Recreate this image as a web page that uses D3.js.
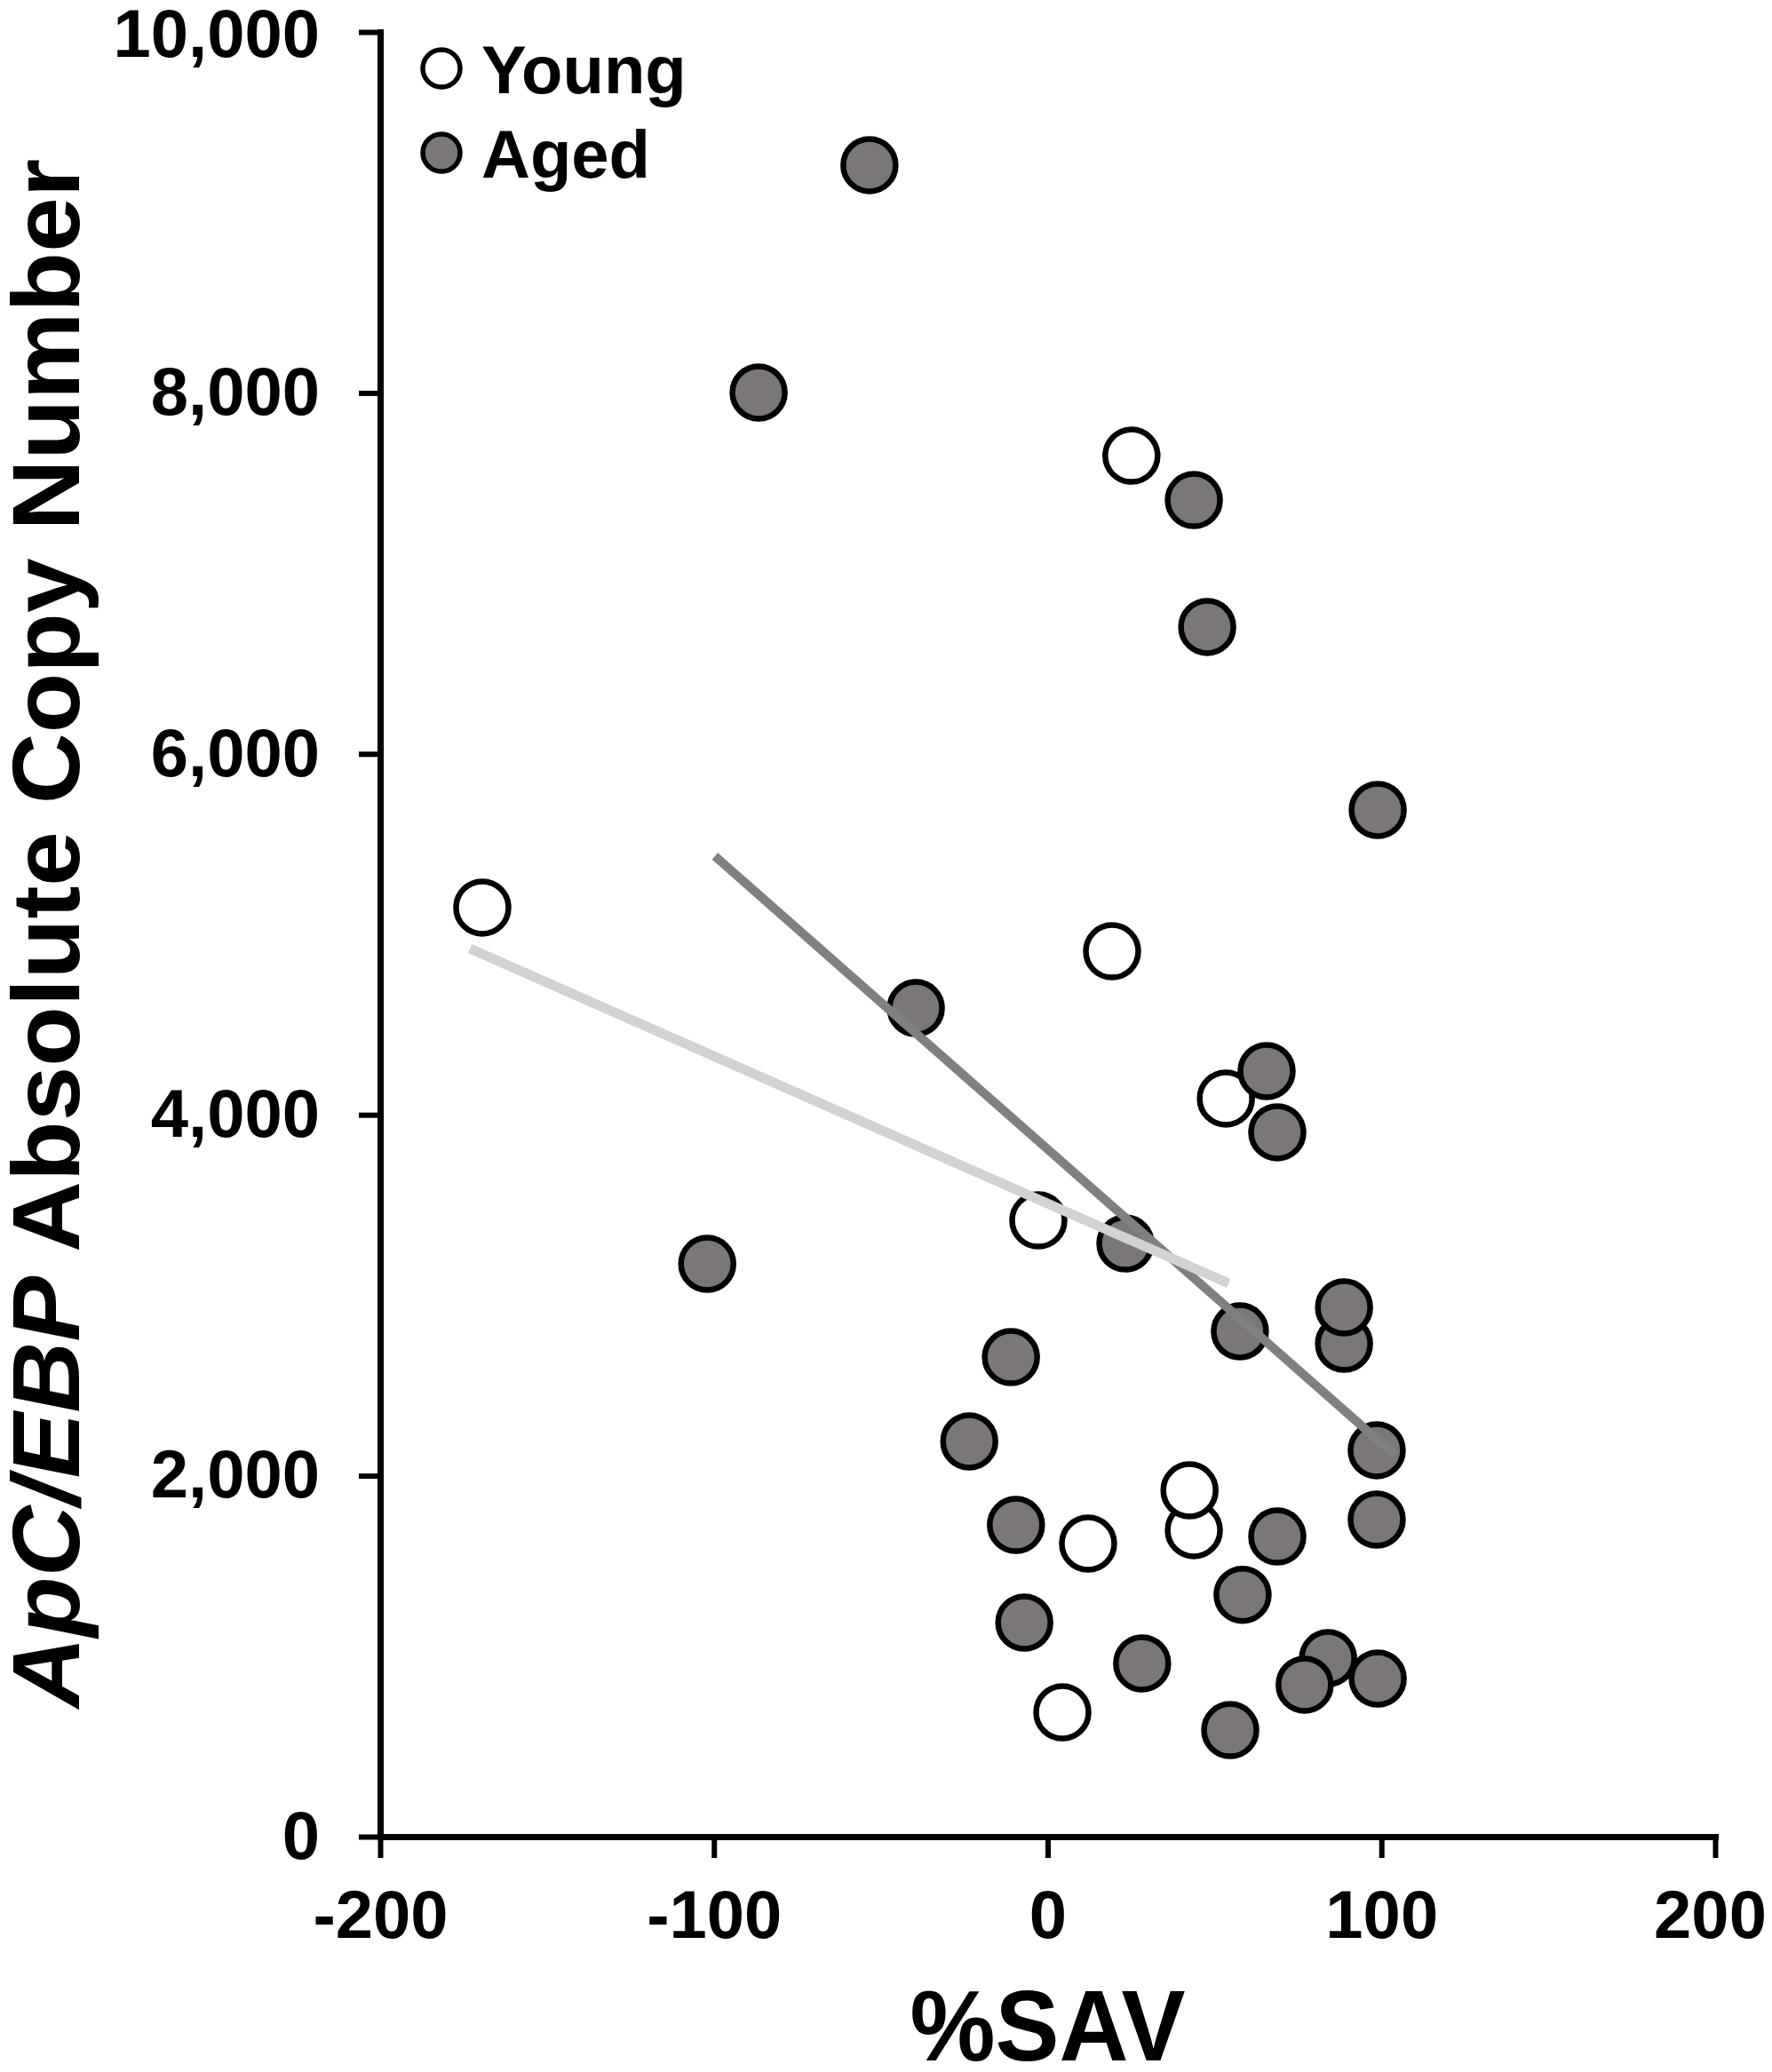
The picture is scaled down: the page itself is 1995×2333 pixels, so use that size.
<!DOCTYPE html>
<html>
<head>
<meta charset="utf-8">
<script src="https://cdn.jsdelivr.net/npm/d3@7/dist/d3.min.js"></script>
<style>
  html, body { margin: 0; padding: 0; background: #fff; }
  svg { display: block; }
  text { font-family: "Liberation Sans", Arial, Helvetica, sans-serif; font-weight: bold; fill: #000; }
</style>
</head>
<body>
<svg id="chart" width="1995" height="2333"></svg>
<script>
// ---- data ----
const xTicks = [-200, -100, 0, 100, 200];
const yTicks = [0, 2000, 4000, 6000, 8000, 10000];

const youngSAV  = [-169.4, 25.1, 19.3, 53.4, -2.8, 43.8, 42.5, 12.1, 4.4];
const youngCopy = [5148, 7652, 4906, 4090, 3415, 1698, 1919, 1624, 689];

const agedSAV  = [-53.4, -86.6, 43.8, 47.8, 98.9, -39.5, 65.6, 68.8, -102, 23.3,
                  88.8, 88.8, 57.6, -11, -23.5, 98.6, -9.5, 98.6, 68.8, 58.4,
                  -7, 28.3, 84, 77, 98.9, 54.7];
const agedCopy = [9262, 8002, 7406, 6703, 5689, 4591, 4242, 3903, 3174, 3287,
                  2731, 2933, 2800, 2657, 2190, 2141, 1727, 1757, 1663, 1340,
                  1186, 960, 989, 842, 876, 590];

const youngFitX = [-173.1, 54.2];
const youngFitY = [4921, 3066];
const agedFitX  = [-99.7, 104];
const agedFitY  = [5433, 2115];

const legendLabels = ["Young", "Aged"];
const xTitle = "%SAV";

// ---- styles ----
const agedFill = "#7b7778";
const agedLine = "#808080";
const youngLine = "#d2d2d2";

const svg = d3.select("#chart");

const x = d3.scaleLinear().domain([-200, 200]).range([428, 1931]);
const y = d3.scaleLinear().domain([0, 10000]).range([2068, 36]);

// axes
const xAxis = d3.axisBottom(x).tickValues(xTicks).tickFormat(d => String(d))
  .tickSizeInner(24).tickSizeOuter(0).tickPadding(36);
const yAxis = d3.axisLeft(y).tickValues(yTicks).tickFormat(d3.format(","))
  .tickSizeInner(24).tickSizeOuter(0).tickPadding(44);

const gx = svg.append("g").attr("transform", `translate(0,${y(0)})`).call(xAxis);
const gy = svg.append("g").attr("transform", `translate(${x(-200)},0)`).call(yAxis);

[gx, gy].forEach(g => {
  g.select(".domain").attr("stroke", "#000").attr("stroke-width", 7).attr("stroke-linecap", "square");
  g.selectAll(".tick line").attr("stroke", "#000").attr("stroke-width", 6);
  g.selectAll(".tick text").attr("font-size", 76).attr("font-weight", "bold")
    .attr("font-family", '"Liberation Sans", Arial, sans-serif').attr("fill", "#000");
});
// keep the last x label inside the picture
gx.selectAll(".tick text").filter(d => d === 200).attr("dx", -6);
gy.selectAll(".tick text").filter(d => d === 10000).attr("dy", "0.36em");

// points
const young = youngSAV.map((v, i) => ({ x: v, y: youngCopy[i] }));
const aged  = agedSAV.map((v, i) => ({ x: v, y: agedCopy[i] }));

svg.append("g").selectAll("circle").data(young).join("circle")
  .attr("cx", d => x(d.x)).attr("cy", d => y(d.y)).attr("r", 29.5)
  .attr("fill", "#fff").attr("stroke", "#000").attr("stroke-width", 6.5);

svg.append("g").selectAll("circle").data(aged).join("circle")
  .attr("cx", d => x(d.x)).attr("cy", d => y(d.y)).attr("r", 29.5)
  .attr("fill", agedFill).attr("stroke", "#000").attr("stroke-width", 6.5);

// trend lines
const line = d3.line().x(d => x(d[0])).y(d => y(d[1]));
svg.append("path").datum(agedFitX.map((v, i) => [v, agedFitY[i]]))
  .attr("d", line).attr("fill", "none").attr("stroke", agedLine).attr("stroke-width", 10);
svg.append("path").datum(youngFitX.map((v, i) => [v, youngFitY[i]]))
  .attr("d", line).attr("fill", "none").attr("stroke", youngLine).attr("stroke-width", 11);

// legend
const legend = svg.append("g");
const legFills = ["#fff", agedFill];
const legY = [77, 172];
legendLabels.forEach((lab, i) => {
  legend.append("circle").attr("cx", 497).attr("cy", legY[i]).attr("r", 21)
    .attr("fill", legFills[i]).attr("stroke", "#000").attr("stroke-width", 5.5);
  legend.append("text").attr("x", 542).attr("y", legY[i] + 28)
    .attr("font-size", 76).text(lab);
});

// axis titles
svg.append("text").attr("x", (x(-200) + x(200)) / 2).attr("y", 2320)
  .attr("text-anchor", "middle").attr("font-size", 114)
  .attr("textLength", 310).attr("lengthAdjust", "spacingAndGlyphs")
  .text(xTitle);

const yt = svg.append("text")
  .attr("transform", "translate(89,1051) rotate(-90)")
  .attr("text-anchor", "middle").attr("font-size", 108)
  .attr("textLength", 1744).attr("lengthAdjust", "spacingAndGlyphs");
yt.append("tspan").attr("font-style", "italic").text("ApC/EBP");
yt.append("tspan").text(" Absolute Copy Number");
</script>
</body>
</html>
